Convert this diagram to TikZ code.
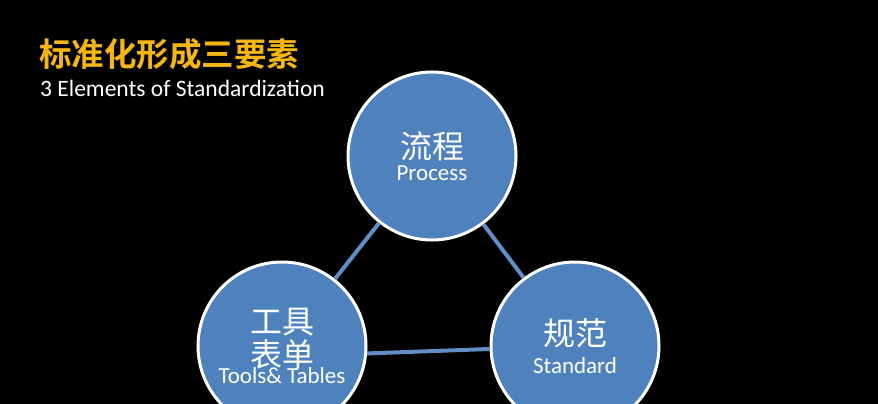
\documentclass[tikz,border=0pt]{standalone}
\usepackage{fontspec}
\setmainfont{Carlito}
\newfontfamily\cjk{Noto Sans CJK SC}
\newfontfamily\cjkbold{Noto Sans CJK SC Bold}
\definecolor{elemblue}{RGB}{79,129,189}
\definecolor{titleorange}{RGB}{245,182,20}
\newcommand{\zh}[1]{{\cjk\fontsize{32}{36}\selectfont #1}}
\newcommand{\en}[1]{{\fontsize{23}{26}\selectfont #1}}
\tikzset{
  x = 1pt,
  y = -1pt,
  element/.style = { % circle of one element
    circle,
    draw = white,
    line width = 3pt,
    fill = elemblue,
    text = white,
    align = center,
    inner sep = 0pt,
    minimum size = 168pt,
  },
  link/.style = { % connector between circles
    draw = elemblue!90!white,
    line width = 4pt,
  },
}
\begin{document}
\begin{tikzpicture}
    \fill[black] (0,0) rectangle (878,404); % background
    \useasboundingbox (0,0) rectangle (878,404);
    % title
    \node[anchor=west,text=titleorange,font=\cjkbold\fontsize{32.5}{34}\selectfont,inner sep=0pt] (title) at (39,54) {标准化形成三要素};
    \node[anchor=west,text=white,font=\fontsize{23.5}{26}\selectfont,inner sep=0pt] (subtitle) at (40,88) {3 Elements of Standardization};
    % elements
    \node[element] (process) at (432,156) {\zh{流程}\\[4pt]\en{Process}};
    \node[element] (tools) at (282,346) {\zh{工具}\\[2pt]\zh{表单}\\[-2pt]\en{Tools\& Tables}};
    \node[element] (standard) at (575,346) {\zh{规范}\\[8pt]\en{Standard}};
    % connectors
    \draw[link] (process) -- (tools);
    \draw[link] (process) -- (standard);
    \draw[link] (tools.-5) -- (standard.-178);
\end{tikzpicture}
\end{document}
